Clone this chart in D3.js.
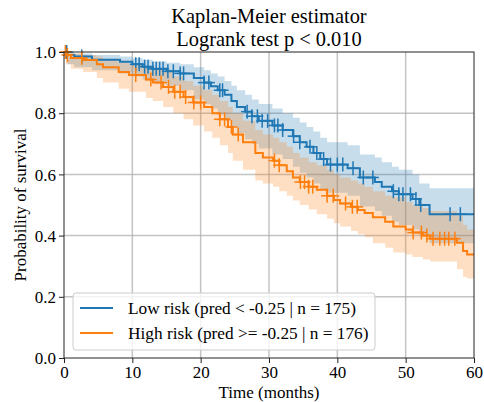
<!DOCTYPE html>
<html>
<head>
<meta charset="utf-8">
<script src="https://cdn.jsdelivr.net/npm/d3@7"></script>
<style>
body{margin:0;background:#fff;}
text{font-family:"Liberation Serif","Times New Roman",serif;fill:#000;}
</style>
</head>
<body>
<svg id="km" width="484" height="402"></svg>
<script>
// low risk group: step times, survival, CI bounds, censor times
const lowT=[0,0.5,1.5,4.1,8.2,10,11.5,13,15,17,19,20.5,21.5,22.5,23.5,24.5,25.3,26.5,27.5,28.5,30.5,32,33.5,34.5,35.5,36.5,37.5,38.5,41.5,43.3,45.5,46.5,48,49,51,52,53.5];
const lowS=[1,.99,.985,.975,.968,.96,.952,.945,.937,.93,.915,.9,.888,.875,.86,.84,.82,.805,.79,.775,.76,.745,.725,.705,.69,.67,.65,.632,.62,.59,.575,.56,.545,.535,.52,.5,.47];
const lowLo=[1,.96,.95,.94,.93,.92,.91,.9,.89,.875,.845,.83,.815,.795,.775,.755,.735,.715,.7,.685,.665,.65,.625,.605,.59,.57,.55,.54,.53,.495,.48,.465,.445,.435,.42,.4,.375];
const lowHi=[1,1,.995,.99,.985,.98,.975,.97,.965,.96,.95,.94,.93,.92,.905,.89,.875,.86,.845,.83,.815,.8,.785,.77,.755,.74,.72,.705,.695,.665,.655,.64,.625,.615,.6,.57,.555];
const lowCens=[0.4,2.6,10.5,11,11.8,12.3,13,13.5,14,14.5,15.2,16,17,17.5,20.5,21.2,22.8,23.2,26.8,27.5,28.3,29,29.8,30.8,31.3,32,33.6,34.5,36,37,38,39,40,40.8,42.3,43.8,45.2,48.2,49,49.6,50.7,51.5,52.2,56.5,58];

// high risk group
const highT=[0,0.3,1,2.8,4.8,5.7,8,9.5,12,13,14.5,16,17.5,18.9,20.5,21.7,22.8,24,24.7,26.2,28,29.1,30.6,31.5,32.6,33.5,34.5,35.8,37,38.5,39.5,40.4,42,43,44,45.2,47,48.2,50,51,52.5,53.6,57.5,58.4,59];
const highS=[1,.99,.98,.974,.96,.95,.935,.925,.91,.9,.886,.87,.853,.835,.82,.8,.78,.755,.73,.705,.67,.655,.645,.63,.61,.59,.575,.56,.55,.53,.516,.505,.494,.484,.474,.46,.445,.43,.42,.41,.4,.39,.377,.35,.338];
const highLo=[1,.96,.945,.935,.915,.9,.88,.87,.85,.84,.82,.8,.78,.76,.74,.72,.695,.67,.645,.615,.58,.57,.56,.545,.53,.515,.5,.485,.47,.455,.44,.43,.415,.405,.395,.375,.36,.345,.338,.33,.322,.315,.29,.265,.26];
const highHi=[1,1,.995,.99,.985,.975,.965,.96,.95,.945,.935,.92,.905,.89,.875,.86,.84,.82,.8,.775,.745,.73,.72,.705,.69,.67,.655,.64,.63,.615,.6,.59,.58,.57,.56,.545,.53,.525,.51,.5,.49,.48,.465,.435,.42];
const highCens=[0.2,0.5,2.6,10.5,12.7,14.2,15.3,16.2,17,17.8,19,20,22.8,23.5,24.5,25.5,30.8,31.5,34.6,35.2,35.8,36.4,38.5,39.4,41.2,42.2,42.9,51.1,52.3,53.1,54,55,55.7,56.3,57.2];

const xTicks=[0,10,20,30,40,50,60];
const yTicks=[0,0.2,0.4,0.6,0.8,1.0];
const labels=["Low risk (pred < -0.25 | n = 175)","High risk (pred >= -0.25 | n = 176)"];
const colors=["#1f77b4","#ff7f0e"];
const tMax=60;

const svg=d3.select("#km");
const margin={top:52,left:64};
const width=410,height=306;
const g=svg.append("g").attr("transform",`translate(${margin.left},${margin.top})`);

const x=d3.scaleLinear().domain([0,60]).range([0,width]);
const y=d3.scaleLinear().domain([0,1]).range([height,0]);

// grid
g.append("g").selectAll("line").data(xTicks.slice(1,-1)).enter().append("line")
    .attr("x1",d=>x(d)).attr("x2",d=>x(d)).attr("y1",0).attr("y2",height)
    .attr("stroke","#b0b0b0").attr("stroke-opacity",0.75).attr("stroke-width",1.5);
g.append("g").selectAll("line").data(yTicks.slice(1,-1)).enter().append("line")
    .attr("y1",d=>y(d)).attr("y2",d=>y(d)).attr("x1",0).attr("x2",width)
    .attr("stroke","#b0b0b0").attr("stroke-opacity",0.75).attr("stroke-width",1.5);

const groups=[
    {T:lowT,S:lowS,Lo:lowLo,Hi:lowHi,C:lowCens},
    {T:highT,S:highS,Lo:highLo,Hi:highHi,C:highCens}
];
groups.forEach(gr=>{
    gr.pts=gr.T.map((t,i)=>({t:t,s:gr.S[i],lo:gr.Lo[i],hi:gr.Hi[i]}));
    gr.pts.push(Object.assign({},gr.pts[gr.pts.length-1],{t:tMax}));
});

const area=d3.area().curve(d3.curveStepAfter)
    .x(d=>x(d.t)).y0(d=>y(d.lo)).y1(d=>y(d.hi));
const line=d3.line().curve(d3.curveStepAfter)
    .x(d=>x(d.t)).y(d=>y(d.s));

groups.forEach((gr,i)=>{
    g.append("path").datum(gr.pts).attr("d",area)
        .attr("fill",colors[i]).attr("fill-opacity",0.25);
});
groups.forEach((gr,i)=>{
    g.append("path").datum(gr.pts).attr("d",line)
        .attr("fill","none").attr("stroke",colors[i]).attr("stroke-width",2);
    const bis=d3.bisector(d=>d).right;
    const cg=g.append("g").attr("stroke",colors[i]).attr("stroke-width",1.5);
    gr.C.forEach(c=>{
        const s=gr.S[bis(gr.T,c)-1];
        cg.append("line").attr("x1",x(c)).attr("x2",x(c)).attr("y1",y(s)-7).attr("y2",y(s)+7);
        cg.append("line").attr("x1",x(c)-6).attr("x2",x(c)+6).attr("y1",y(s)).attr("y2",y(s));
    });
});

// axes
const xa=g.append("g").attr("transform",`translate(0,${height})`)
    .call(d3.axisBottom(x).tickValues(xTicks).tickFormat(d3.format("d")).tickSizeOuter(0).tickSize(5));
const ya=g.append("g")
    .call(d3.axisLeft(y).tickValues(yTicks).tickFormat(d3.format(".1f")).tickSizeOuter(0).tickSize(5));
[xa,ya].forEach(a=>{
    a.attr("font-family",'"Liberation Serif",serif').attr("font-size",17);
    a.select(".domain").remove();
    a.selectAll("line").attr("stroke","#222");
    a.selectAll("text").attr("fill","#000");
});
xa.selectAll("text").attr("dy","0.75em").attr("y",7);
ya.selectAll("text").attr("x",-8).attr("dy","0.34em");
g.append("rect").attr("width",width).attr("height",height)
    .attr("fill","none").attr("stroke","#222").attr("stroke-width",1);

// titles
svg.append("text").attr("x",269).attr("y",23).attr("text-anchor","middle")
    .style("font-size","20.4px").text("Kaplan-Meier estimator");
svg.append("text").attr("x",269).attr("y",46).attr("text-anchor","middle")
    .style("font-size","20.4px").text("Logrank test p < 0.010");
svg.append("text").attr("x",269).attr("y",398).attr("text-anchor","middle")
    .style("font-size","17px").text("Time (months)");
svg.append("text").attr("transform","translate(26,205) rotate(-90)").attr("text-anchor","middle")
    .style("font-size","17px").text("Probability of survival");

// legend
const lg=svg.append("g");
lg.append("rect").attr("x",73).attr("y",293).attr("width",302).attr("height",57)
    .attr("rx",3).attr("fill","#fff").attr("fill-opacity",0.8).attr("stroke","#ccc");
labels.forEach((l,i)=>{
    const yy=308+i*25;
    lg.append("line").attr("x1",80).attr("x2",113).attr("y1",yy).attr("y2",yy)
        .attr("stroke",colors[i]).attr("stroke-width",2);
    lg.append("text").attr("x",128).attr("y",yy).attr("dy","0.34em")
        .style("font-size","17.3px").text(l);
});
</script>
</body>
</html>
